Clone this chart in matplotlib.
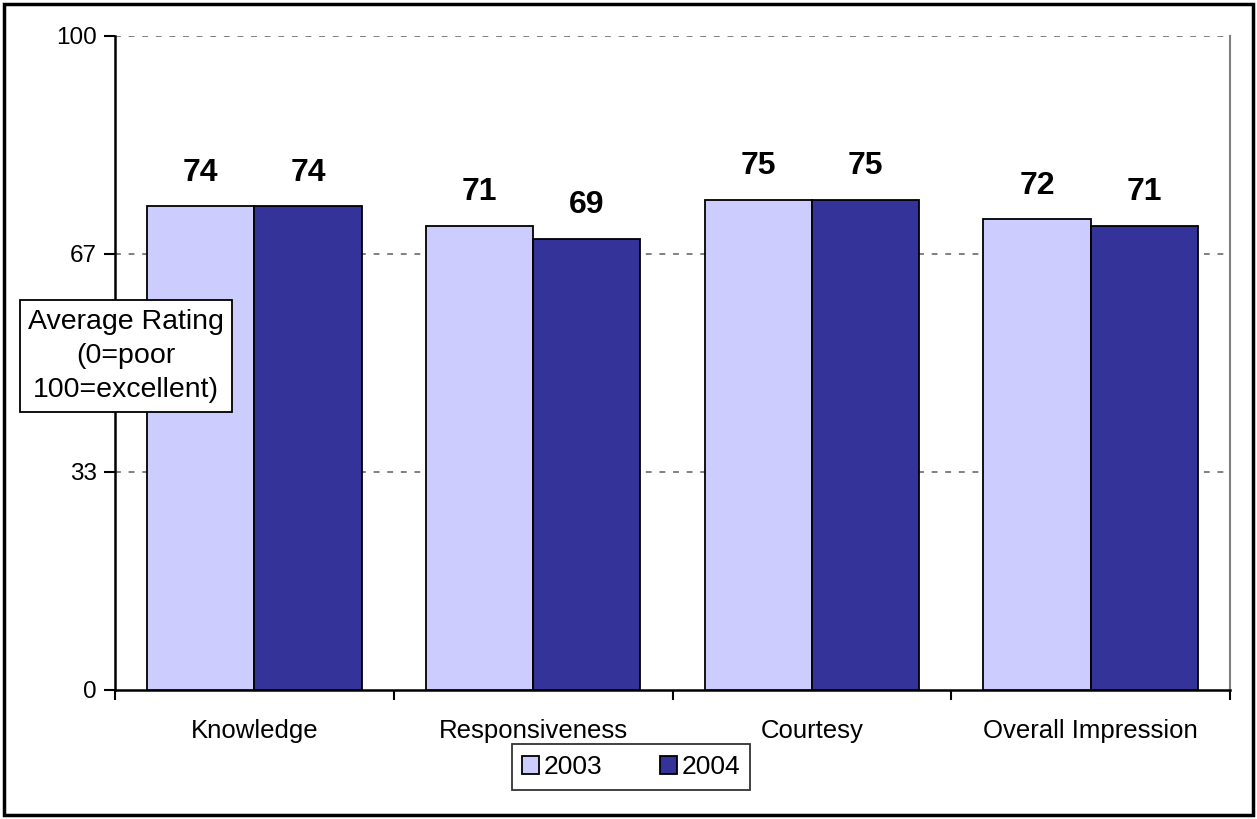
import matplotlib.pyplot as plt
import numpy as np
from matplotlib.patches import Rectangle

plt.rcParams['font.family'] = ['Liberation Sans', 'DejaVu Sans']

# data
categories = ["Knowledge", "Responsiveness", "Courtesy", "Overall Impression"]
years = ["2003", "2004"]
vals_2003 = [74, 71, 75, 72]
vals_2004 = [74, 69, 75, 71]
colors = ["#CCCCFF", "#333399"]
yticks = [0, 100 / 3, 200 / 3, 100]
ytick_labels = ["0", "33", "67", "100"]

fig = plt.figure(figsize=(12.57, 8.19), dpi=100)
ax = fig.add_axes([115 / 1257, 1 - 690 / 819, 1115 / 1257, 654 / 819])

x = np.arange(len(categories))
w = 0.385
b1 = ax.bar(x - w / 2, vals_2003, w, color=colors[0], edgecolor="black", linewidth=1.3, label=years[0], zorder=3)
b2 = ax.bar(x + w / 2, vals_2004, w, color=colors[1], edgecolor="black", linewidth=1.3, label=years[1], zorder=3)

# value labels above bars
for bars in (b1, b2):
    for r in bars:
        ax.text(r.get_x() + r.get_width() / 2, r.get_height() + 2.8, "%d" % round(r.get_height()),
                ha="center", va="bottom", fontsize=23, fontweight="bold")

ax.set_xlim(-0.5, len(categories) - 0.5)
ax.set_ylim(0, 100)
ax.set_yticks(yticks)
ax.set_yticklabels(ytick_labels, fontsize=17.5)
ax.set_xticks(x)
ax.set_xticklabels(categories, fontsize=18.5)
ax.tick_params(axis="x", length=0, pad=21)
ax.set_xticks(np.arange(-0.5, len(categories)), minor=True)
ax.tick_params(axis="x", which="minor", length=7, width=1.5, direction="out")
ax.tick_params(axis="y", length=8, width=1.5, direction="out", pad=5)

for yv in yticks[1:]:
    ax.axhline(yv, color="#808080", linestyle=(0, (3, 4)), linewidth=1.4, zorder=1)

ax.spines["left"].set_linewidth(1.8)
ax.spines["bottom"].set_linewidth(1.8)
ax.spines["top"].set_visible(False)
ax.spines["right"].set_color("#808080")
ax.spines["right"].set_linewidth(1.5)

fig.text(126 / 1257, 1 - 356 / 819, "Average Rating\n(0=poor\n100=excellent)", ha="center", va="center",
         fontsize=20.5, linespacing=1.4,
         bbox=dict(boxstyle="square,pad=0.3", facecolor="white", edgecolor="black", linewidth=1.3))

leg = fig.legend(loc="center", bbox_to_anchor=(631 / 1257, 1 - 767 / 819), ncol=2, fontsize=19,
                 frameon=True, fancybox=False, edgecolor="black", handlelength=0.65, handleheight=0.65,
                 handletextpad=0.15, columnspacing=2.2, borderpad=0.4)
leg.get_frame().set_linewidth(1.3)

fig.patches.append(Rectangle((4 / 1257, 4 / 819), 1 - 8 / 1257, 1 - 8 / 819, transform=fig.transFigure,
                             fill=False, edgecolor="black", linewidth=2.5))

fig.savefig("out.png", dpi=100)
